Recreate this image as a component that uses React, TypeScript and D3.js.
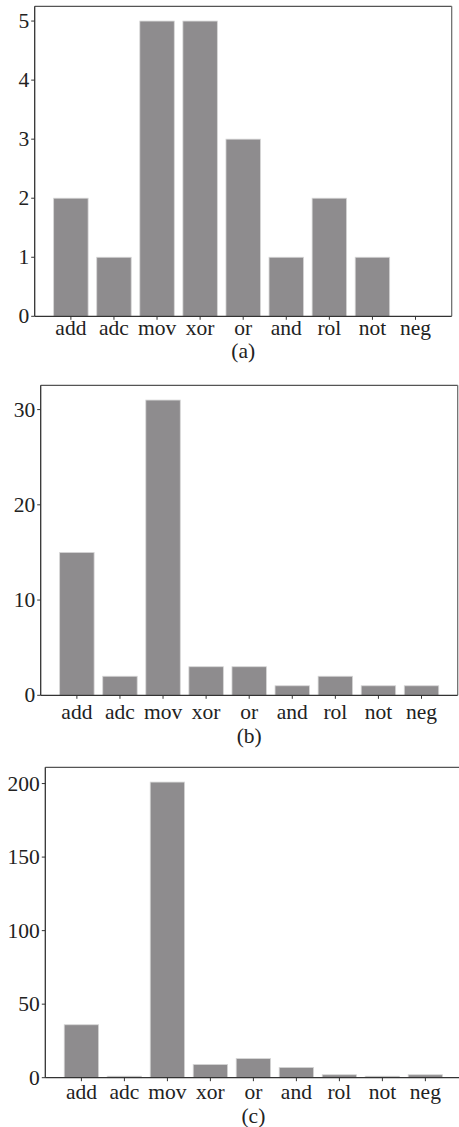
import React, { useEffect } from "react";
import * as d3 from "d3";

const categories = ["add", "adc", "mov", "xor", "or", "and", "rol", "not", "neg"];
const valuesA = [2, 1, 5, 5, 3, 1, 2, 1, 0];
const valuesB = [15, 2, 31, 3, 3, 1, 2, 1, 1];
const valuesC = [36, 1, 201, 9, 13, 7, 2, 1, 2];
const ticksA = [0, 1, 2, 3, 4, 5];
const ticksB = [0, 10, 20, 30];
const ticksC = [0, 50, 100, 150, 200];
const captions = ["(a)", "(b)", "(c)"];

const FONT = "'Liberation Serif', 'Times New Roman', serif";
const FS = 21.5;

type PanelProps = {
  values: number[];
  ticks: number[];
  caption: string;
  left: number;
  top: number;
  width: number;
  height: number;
  labelOffset: number;
  captionOffset: number;
};

function Panel({ values, ticks, caption, left, top, width, height, labelOffset, captionOffset }: PanelProps) {
  const x = d3
    .scaleBand<string>()
    .domain(categories)
    .range([left, left + width])
    .paddingInner(0.2)
    .paddingOuter(0.44);
  const ymax = (d3.max(values) as number) * 1.05;
  const y = d3.scaleLinear().domain([0, ymax]).range([top + height, top]);
  const bottom = top + height;
  const right = left + width;
  return (
    <g>
      {categories.map((c, i) => (
        <rect
          key={c}
          x={x(c)}
          y={y(values[i])}
          width={x.bandwidth()}
          height={bottom - y(values[i])}
          fill="#8e8c8e"
          stroke="#d6d6d6"
          strokeWidth={0.8}
        />
      ))}
      <line x1={left} x2={right} y1={top} y2={top} stroke="#555" strokeWidth={1.2} />
      <line x1={right} x2={right} y1={top} y2={bottom} stroke="#666" strokeWidth={1.2} />
      <line x1={left} x2={left} y1={top} y2={bottom} stroke="#333" strokeWidth={1.3} />
      <line x1={left} x2={right} y1={bottom} y2={bottom} stroke="#333" strokeWidth={1.3} />
      {ticks.map((t) => (
        <g key={t}>
          <line x1={left - 3.5} x2={left} y1={y(t)} y2={y(t)} stroke="#333" strokeWidth={1} />
          <text x={left - 5.5} y={y(t) + 7} textAnchor="end" fontFamily={FONT} fontSize={FS} fill="#222">
            {t}
          </text>
        </g>
      ))}
      {categories.map((c) => {
        const cx = (x(c) as number) + x.bandwidth() / 2;
        return (
          <g key={c}>
            <line x1={cx} x2={cx} y1={bottom} y2={bottom + 3.5} stroke="#333" strokeWidth={1} />
            <text x={cx} y={bottom + labelOffset} textAnchor="middle" fontFamily={FONT} fontSize={FS} fill="#222">
              {c}
            </text>
          </g>
        );
      })}
      <text
        x={(left + right) / 2}
        y={bottom + captionOffset}
        textAnchor="middle"
        fontFamily={FONT}
        fontSize={FS}
        fill="#222"
      >
        {caption}
      </text>
    </g>
  );
}

export default function App() {
  useEffect(() => {
    document.body.style.margin = "0";
  }, []);
  return (
    <svg width={459} height={1127} style={{ display: "block", background: "#fff", overflow: "hidden" }}>
      <Panel values={valuesA} ticks={ticksA} caption={captions[0]} left={34.7} top={6.3} width={417} height={310} labelOffset={19} captionOffset={42} />
      <Panel values={valuesB} ticks={ticksB} caption={captions[1]} left={40.7} top={385.3} width={417} height={310} labelOffset={24} captionOffset={48} />
      <Panel values={valuesC} ticks={ticksC} caption={captions[2]} left={45.3} top={767.3} width={416.2} height={310.4} labelOffset={21} captionOffset={45.5} />
    </svg>
  );
}
